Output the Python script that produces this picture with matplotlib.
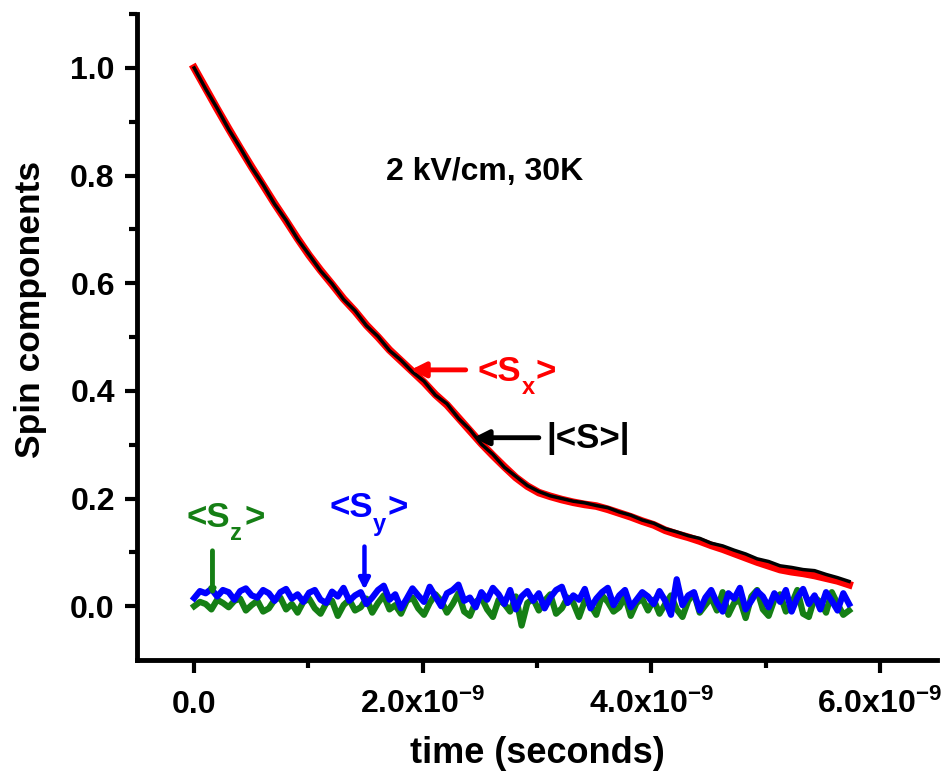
import matplotlib
matplotlib.use('Agg')
import matplotlib.pyplot as plt
import numpy as np

plt.rcParams['font.family'] = ['Liberation Sans', 'DejaVu Sans']
plt.rcParams['font.weight'] = 'bold'
plt.rcParams['mathtext.fontset'] = 'custom'
plt.rcParams['mathtext.rm'] = 'Liberation Sans:bold'
plt.rcParams['mathtext.it'] = 'Liberation Sans:bold'
plt.rcParams['mathtext.bf'] = 'Liberation Sans:bold'
plt.rcParams['mathtext.sf'] = 'Liberation Sans:bold'

# data (time in ns)
t_end = 5.73
sx = [1.000, 0.962, 0.924, 0.887, 0.851, 0.816, 0.782, 0.748, 0.716, 0.683,
      0.652, 0.624, 0.598, 0.571, 0.548, 0.522, 0.500, 0.476, 0.456, 0.436,
      0.416, 0.393, 0.374, 0.350, 0.326, 0.302, 0.280, 0.259, 0.239, 0.223,
      0.211, 0.204, 0.198, 0.193, 0.189, 0.186, 0.180, 0.173, 0.166, 0.158,
      0.151, 0.141, 0.134, 0.128, 0.121, 0.113, 0.106, 0.098, 0.090, 0.082,
      0.075, 0.068, 0.064, 0.061, 0.057, 0.052, 0.047, 0.040]
s_abs = [1.000, 0.961, 0.925, 0.886, 0.852, 0.815, 0.783, 0.747, 0.717, 0.682,
         0.653, 0.623, 0.599, 0.570, 0.549, 0.521, 0.501, 0.475, 0.457, 0.435,
         0.418, 0.392, 0.376, 0.349, 0.328, 0.301, 0.282, 0.258, 0.241, 0.224,
         0.213, 0.205, 0.200, 0.195, 0.192, 0.187, 0.183, 0.175, 0.169, 0.160,
         0.154, 0.144, 0.138, 0.131, 0.126, 0.117, 0.112, 0.104, 0.097, 0.088,
         0.083, 0.075, 0.072, 0.068, 0.066, 0.059, 0.053, 0.046]
sy = [0.015, 0.028, 0.024, 0.032, 0.018, 0.030, 0.026, 0.012, 0.028, 0.033,
      0.020, 0.016, 0.030, 0.024, 0.010, 0.026, 0.032, 0.014, 0.022, 0.008,
      0.025, 0.030, 0.012, 0.006, 0.027, 0.018, 0.034, 0.010, 0.020, 0.026,
      0.004, 0.016, 0.030, 0.038, 0.012, 0.022, -0.004, 0.014, 0.033, 0.020,
      0.008, 0.036, 0.018, 0.000, 0.024, 0.030, 0.040, 0.010, 0.016, -0.002,
      0.026, 0.012, 0.034, 0.022, 0.004, 0.030, -0.006, 0.018, 0.028, 0.010,
      0.024, -0.004, 0.016, 0.030, 0.036, 0.006, 0.020, 0.012, 0.032, -0.004,
      0.014, 0.026, 0.034, 0.002, 0.020, 0.030, -0.002, 0.012, 0.026, 0.018,
      0.004, 0.028, 0.010, -0.016, 0.050, 0.002, 0.020, 0.026, -0.008, 0.016,
      0.030, 0.006, -0.010, 0.024, 0.014, 0.034, -0.006, 0.010, 0.028, 0.018,
      -0.002, 0.024, 0.008, 0.030, -0.010, 0.016, 0.032, 0.004, 0.020, -0.006,
      0.026, 0.010, -0.008, 0.024, 0.004]
sz = [0.000, 0.008, 0.004, -0.006, 0.012, 0.006, -0.002, 0.010, 0.014, -0.008,
      0.002, 0.010, -0.010, -0.004, 0.012, 0.016, -0.006, 0.004, -0.012, 0.008,
      0.014, -0.004, -0.014, 0.006, 0.010, -0.018, 0.002, 0.012, -0.008, -0.002,
      0.014, -0.012, 0.006, 0.020, -0.006, 0.002, -0.014, 0.010, 0.016, -0.004,
      -0.016, 0.006, 0.022, 0.010, -0.012, 0.004, 0.024, -0.010, -0.018, 0.008,
      0.016, -0.006, -0.020, 0.012, 0.004, -0.010, 0.018, -0.036, 0.006, 0.014,
      -0.008, 0.010, 0.022, -0.014, -0.004, 0.016, 0.006, -0.020, 0.010, 0.002,
      -0.016, 0.020, 0.008, -0.010, -0.002, 0.018, -0.018, 0.006, 0.014, -0.008,
      0.012, -0.014, 0.004, 0.020, -0.006, -0.020, 0.010, 0.024, -0.012, 0.002,
      0.016, -0.008, 0.026, -0.016, 0.006, 0.012, -0.022, 0.018, 0.030, -0.006,
      -0.018, 0.012, 0.022, -0.010, 0.004, 0.030, -0.014, -0.020, 0.016, 0.008,
      -0.012, 0.026, 0.004, -0.016, -0.008]

t_main = np.linspace(0, t_end, len(sx)) * 1e-9
t_noise = np.linspace(0, t_end, len(sy)) * 1e-9

xticks = [0, 2e-9, 4e-9, 6e-9]
xtick_labels = ['0.0', r'2.0x10$^{-9}$', r'4.0x10$^{-9}$', r'6.0x10$^{-9}$']
yticks = [0.0, 0.2, 0.4, 0.6, 0.8, 1.0]

red = '#ff0000'
green = '#157f15'
blue = '#0000ff'

# make plot
fig, ax = plt.subplots(figsize=(9.49, 7.82), dpi=100)
fig.subplots_adjust(left=0.1444, right=0.9874, bottom=0.156, top=0.982)

ax.plot(t_noise, sz, color=green, linewidth=4.5)
ax.plot(t_noise, sy, color=blue, linewidth=4.5)
ax.plot(t_main, sx, color=red, linewidth=5.5)
ax.plot(t_main, s_abs, color='black', linewidth=2.5)

ax.set_xlim(-0.5e-9, 6.5e-9)
ax.set_ylim(-0.1, 1.1)
ax.set_xticks(xticks, xtick_labels)
ax.set_xticks([1e-9, 3e-9, 5e-9], minor=True)
ax.set_yticks(yticks, ['%.1f' % v for v in yticks])
ax.set_yticks([0.1, 0.3, 0.5, 0.7, 0.9, 1.1], minor=True)

for s in ['top', 'right']:
    ax.spines[s].set_visible(False)
for s in ['left', 'bottom']:
    ax.spines[s].set_linewidth(3.5)
ax.tick_params(which='major', length=9, width=3, labelsize=23)
ax.tick_params(which='minor', length=5.5, width=3)
ax.tick_params(axis='y', which='major', pad=7)
ax.tick_params(axis='x', which='major', pad=29)
for lbl in ax.get_xticklabels():
    lbl.set_va('baseline')

ax.set_xlabel('time (seconds)', fontsize=26, fontweight='bold', labelpad=12)
ax.set_ylabel('Spin components', fontsize=25.5, fontweight='bold')
ax.yaxis.set_label_coords(-0.113, 0.542)

ax.text(2.54e-9, 0.806, '2 kV/cm, 30K', fontsize=23, fontweight='bold',
        ha='center', va='center')


def spin_label(x, y, sub, color):
    kw = dict(color=color, fontweight='bold', va='baseline', ha='left',
              textcoords='offset points')
    ax.annotate('<S', (x, y), xytext=(0, 0), fontsize=25, **kw)
    ax.annotate(sub, (x, y), xytext=(31.5, -9.5), fontsize=17, **kw)
    ax.annotate('>', (x, y), xytext=(42, 0), fontsize=25, **kw)


# annotations
ax.annotate('', xy=(1.87e-9, 0.439), xytext=(2.40e-9, 0.439),
            arrowprops=dict(arrowstyle='-|>', color=red, lw=3.5, mutation_scale=22))
spin_label(2.48e-9, 0.418, 'x', red)

ax.annotate('', xy=(2.42e-9, 0.313), xytext=(3.04e-9, 0.313),
            arrowprops=dict(arrowstyle='-|>', color='black', lw=3.5, mutation_scale=22))
ax.text(3.08e-9, 0.294, '|<S>|', color='black', fontsize=25,
        fontweight='bold', ha='left', va='baseline')

ax.annotate('', xy=(0.16e-9, 0.013), xytext=(0.16e-9, 0.108),
            arrowprops=dict(arrowstyle='-|>', color=green, lw=3.5, mutation_scale=6))
spin_label(-0.07e-9, 0.147, 'z', green)

ax.annotate('', xy=(1.49e-9, 0.025), xytext=(1.49e-9, 0.116),
            arrowprops=dict(arrowstyle='-|>', color=blue, lw=3.2, mutation_scale=16))
spin_label(1.18e-9, 0.165, 'y', blue)

plt.savefig('out.png', dpi=100)
plt.close()
